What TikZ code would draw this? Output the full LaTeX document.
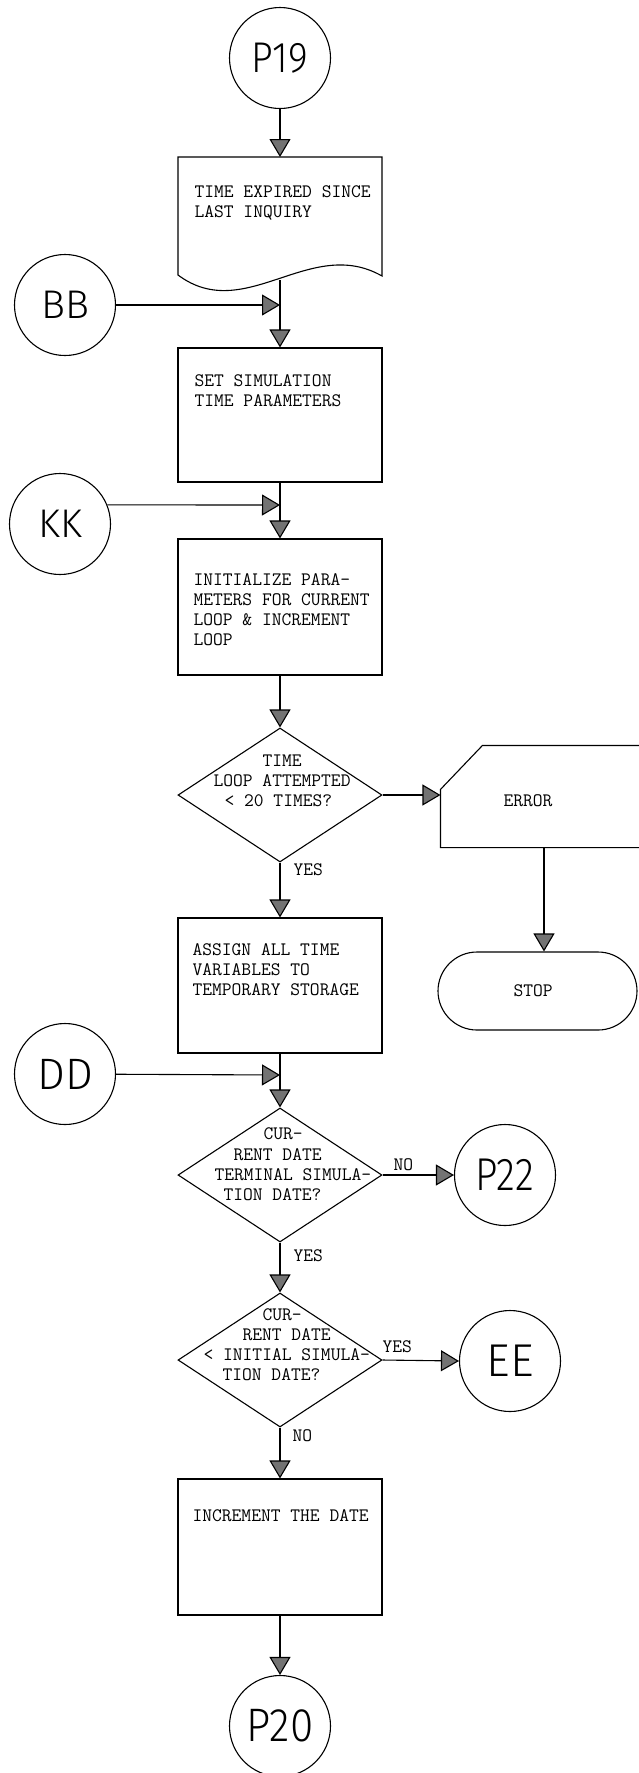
\documentclass[tikz,border=0pt]{standalone}
\usepackage{fontspec}
\usepackage{graphicx}
\newfontfamily\lettering{Fira Sans Light}
\usetikzlibrary{arrows.meta,shapes.geometric,calc}
\begin{document}
\begin{tikzpicture}[x=1pt,y=-1pt,line width=1.1pt,
  box/.style={draw, rectangle, minimum width=204pt, inner sep=0pt},
  circ/.style={draw, circle, minimum size=#1, inner sep=0pt},
  circ/.default=101pt,
  dia/.style={draw, diamond, minimum width=204pt, minimum height=134pt, inner sep=0pt},
  tt/.style={font=\ttfamily\fontsize{19}{20}\selectfont\addfontfeatures{FakeBold=1.2}, inner sep=0pt, anchor=base west},
  arr/.style={-{Triangle[length=18pt,width=21pt,fill=black!55]}},
  lab/.style={font=\lettering\fontsize{#1}{#1}\selectfont},
]
\useasboundingbox (0,0) rectangle (638,1773);

% ---- top connector and document box
\node[circ, lab=43] (P19) at (280,58) {\scalebox{0.88}[1]{P19}};
\node[minimum width=204pt, minimum height=122pt, inner sep=0pt, anchor=north] (doc) at (280,157) {};
\draw (178,275) -- (178,157) -- (382,157) -- (382,276)
      .. controls (310,235) and (245,325) .. (178,275) -- cycle;
\node[tt] (doc1) at (194,197) {TIME EXPIRED SINCE};
\node[tt] (doc2) at (194,217) {LAST INQUIRY};
\draw[arr] (P19) -- (doc.north);

% ---- BB and set box
\node[circ, lab=40] (BB) at (65,305) {BB};
\coordinate (j1) at (280,305);
\node[box, minimum height=134pt] (set) at (280,415) {};
\node[tt] (set1) at (194,386) {SET SIMULATION};
\node[tt] (set2) at (194,406) {TIME PARAMETERS};
\draw[arr] (doc.south) -- (set.north);
\draw[arr] (BB) -- (j1);

% ---- KK and init box
\node[circ, lab=40] (KK) at (60,524) {KK};
\coordinate (j2) at (280,505);
\node[box, minimum height=136pt] (init) at (280,607) {};
\node[tt] (init1) at (193,585) {INITIALIZE PARA-};
\node[tt] (init2) at (193,605) {METERS FOR CURRENT};
\node[tt] (init3) at (193,625) {LOOP \& INCREMENT};
\node[tt] (init4) at (193,645) {LOOP};
\draw[arr] (set.south) -- (init.north);
\draw[arr] (KK.22.3) -- (j2);

% ---- decision 1
\node[dia] (d1) at (280,795) {};
\node[tt] (d1a) at (262,766) {TIME};
\node[tt] (d1b) at (213,786) {LOOP ATTEMPTED};
\node[tt] (d1c) at (224,806) {< 20 TIMES?};
\draw[arr] (init.south) -- (d1.north);

% ---- error card and stop
\node[minimum width=206pt, minimum height=101pt, inner sep=0pt] (err) at (544,796.5) {};
\draw (err.south west) -- ($(err.north west)+(0,44)$) -- ($(err.north west)+(42,0)$)
      -- (err.north east) -- (err.south east) -- cycle;
\node[tt] (errt) at (503,806) {ERROR};
\draw[arr] (d1.east) -- (d1.east -| err.west);
\node[draw, rectangle, rounded corners=39pt, minimum width=199pt, minimum height=78pt, inner sep=0pt] (stop) at (537.5,991) {};
\node[tt] (stopt) at (513,996) {STOP};
\draw[arr] (err.south) -- (err.south |- stop.north);

% ---- assign box
\node[tt] (yes1) at (293,875) {YES};
\node[box, minimum height=135pt] (assign) at (280,985.5) {};
\node[tt] (as1) at (192,955) {ASSIGN ALL TIME};
\node[tt] (as2) at (192,975) {VARIABLES TO};
\node[tt] (as3) at (192,995) {TEMPORARY STORAGE};
\draw[arr] (d1.south) -- (assign.north);

% ---- DD and decision 2
\node[circ, lab=44] (DD) at (65,1074) {DD};
\coordinate (j3) at (280,1075);
\node[dia] (d2) at (280,1175) {};
\node[tt] (d2a) at (263,1139) {CUR-};
\node[tt] (d2b) at (233,1160) {RENT DATE};
\node[tt] (d2c) at (214,1180) {TERMINAL SIMULA-};
\node[tt] (d2d) at (223,1200) {TION DATE?};
\draw[arr] (assign.south) -- (d2.north);
\draw[arr] (DD) -- (j3);
\node[circ, lab=46] (P22) at (505,1175) {\scalebox{0.85}[1]{P22}};
\node[tt] (no1) at (393,1170) {NO};
\draw[arr] (d2.east) -- (P22.west);

% ---- decision 3
\node[tt] (yes2) at (293,1261) {YES};
\node[dia] (d3) at (280,1360) {};
\node[tt] (d3a) at (262,1320) {CUR-};
\node[tt] (d3b) at (242,1340) {RENT DATE};
\node[tt] (d3c) at (203,1360) {< INITIAL SIMULA-};
\node[tt] (d3d) at (222,1380) {TION DATE?};
\draw[arr] (d2.south) -- (d3.north);
\node[circ, lab=46] (EE) at (510,1361) {EE};
\node[tt] (yes3) at (382,1352) {YES};
\draw[arr] (d3.east) -- (EE.west);

% ---- increment box and exit
\node[tt] (no2) at (292,1441) {NO};
\node[box, minimum height=136pt] (incr) at (280,1547) {};
\node[tt] (inc1) at (192,1521) {INCREMENT THE DATE};
\draw[arr] (d3.south) -- (incr.north);
\node[circ, lab=47] (P20) at (280,1726) {\scalebox{0.9}[1]{P20}};
\draw[arr] (incr.south) -- (P20.north);
\end{tikzpicture}
\end{document}
